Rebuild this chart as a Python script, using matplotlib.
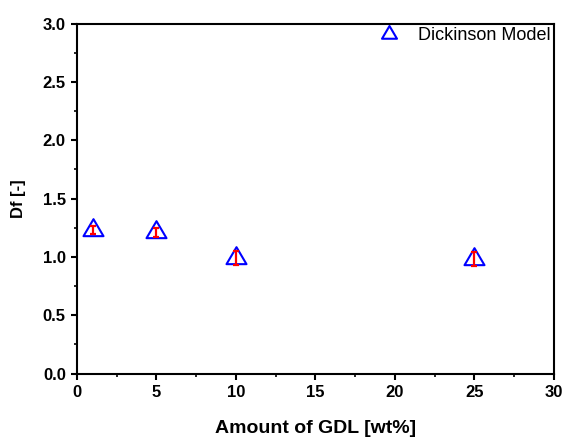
import matplotlib
matplotlib.use("Agg")
import matplotlib.pyplot as plt
from matplotlib.path import Path
from matplotlib.ticker import MultipleLocator

# Fractal dimension from the Dickinson model vs GDL content
gdl_amount = [1, 5, 10, 25]
df_values = [1.23, 1.21, 0.99, 0.98]
df_errors = [0.035, 0.04, 0.06, 0.06]
series_label = "Dickinson Model"

x_ticks = [0, 5, 10, 15, 20, 25, 30]
y_ticks = [0.0, 0.5, 1.0, 1.5, 2.0, 2.5, 3.0]

plt.rcParams["font.family"] = ["Liberation Sans", "DejaVu Sans"]

# open triangle anchored at its centroid
w, h = 1.0, 0.85
tri = Path([(0, 2 * h / 3), (-w / 2, -h / 3), (w / 2, -h / 3), (0, 2 * h / 3)],
           [Path.MOVETO, Path.LINETO, Path.LINETO, Path.CLOSEPOLY])

fig = plt.figure(figsize=(5.66, 4.37), dpi=100)
ax = fig.add_axes([0.136, 0.1453, 0.8428, 0.8009])

ax.plot(gdl_amount, df_values, linestyle="none", marker=tri, markersize=16.3,
        markerfacecolor="none", markeredgecolor="#0000ff", markeredgewidth=1.5,
        label=series_label, zorder=3)
ax.errorbar(gdl_amount, df_values, yerr=df_errors, fmt="none", ecolor="#ff0000",
            elinewidth=1.6, capsize=2.5, capthick=1.6, zorder=4)

ax.set_xlim(0, 30)
ax.set_ylim(0, 3.0)
ax.set_xticks(x_ticks)
ax.set_yticks(y_ticks)
ax.set_xticklabels([str(v) for v in x_ticks])
ax.set_yticklabels([f"{v:.1f}" for v in y_ticks])
ax.xaxis.set_minor_locator(MultipleLocator(2.5))
ax.yaxis.set_minor_locator(MultipleLocator(0.25))

for s in ax.spines.values():
    s.set_linewidth(1.5)
ax.tick_params(which="major", direction="out", length=4.5, width=1.5,
               labelsize=12, pad=3.5)
ax.tick_params(which="minor", direction="out", length=2.5, width=1.2)
for lbl in ax.get_xticklabels() + ax.get_yticklabels():
    lbl.set_fontweight("bold")

ax.set_xlabel("Amount of GDL [wt%]", fontsize=14, fontweight="bold", labelpad=15)
ax.set_ylabel("Df [-]", fontsize=12, fontweight="bold", labelpad=12)

leg = ax.legend(loc="upper right", frameon=False, fontsize=13, markerscale=0.75,
                handlelength=1.4, handletextpad=0.9, borderaxespad=0.0,
                borderpad=0.2)

fig.savefig("out.png", dpi=100)
